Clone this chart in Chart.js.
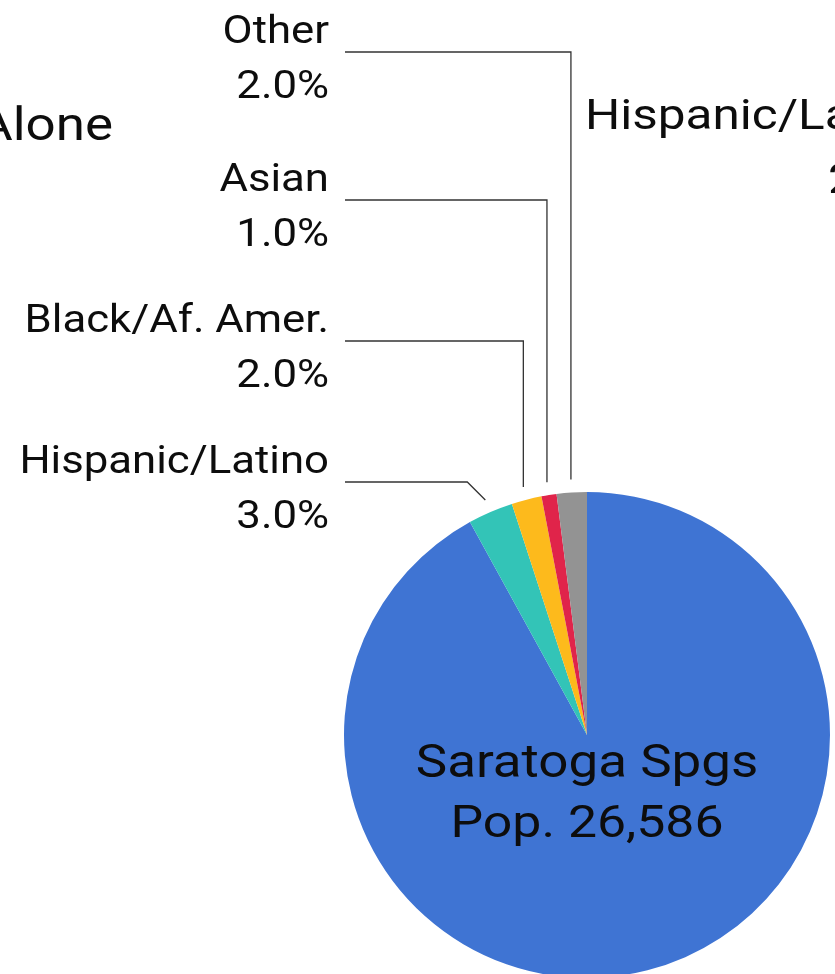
<!DOCTYPE html>
<html>
<head>
<meta charset="utf-8">
<script src="https://cdn.jsdelivr.net/npm/chart.js@4.4.1/dist/chart.umd.min.js"></script>
<style>
  html, body { margin: 0; padding: 0; background: #ffffff; overflow: hidden; }
  #wrap { position: absolute; left: 0; top: 0; width: 835px; height: 974px; overflow: hidden; }
  canvas { display: block; }
</style>
</head>
<body>
<div id="wrap"><canvas id="c" width="835" height="1000"></canvas></div>
<script>
// ---- data ----
const categories = ['White Alone', 'Hispanic/Latino', 'Black/Af. Amer.', 'Asian', 'Other'];
const shares = [92.0, 3.0, 2.0, 1.0, 2.0];
const sliceColors = ['#3F74D3', '#33C4B7', '#FDBA1C', '#E0244A', '#939393'];
const centerLines = ['Saratoga Spgs', 'Pop. 26,586'];

// ---- layout for callout labels (index into categories -> y of leader line) ----
const calloutY = { 4: 52, 3: 200, 2: 341, 1: 482 };
const FONT = 'Roboto, "Liberation Sans", sans-serif';
const SX = 1.15; // horizontal text stretch

function stretchedText(ctx, text, x, y, size, align) {
  ctx.save();
  ctx.font = size + 'px ' + FONT;
  ctx.textBaseline = 'alphabetic';
  ctx.textAlign = align;
  ctx.translate(x, y);
  ctx.scale(SX, 1);
  ctx.fillText(text, 0, 0);
  ctx.restore();
}

const calloutPlugin = {
  id: 'callouts',
  afterDatasetsDraw(chart) {
    const ctx = chart.ctx;
    const meta = chart.getDatasetMeta(0);
    ctx.save();
    ctx.fillStyle = '#0d0d0d';
    // center text
    const a0 = meta.data[0];
    stretchedText(ctx, centerLines[0], a0.x, a0.y + 42, 46, 'center');
    stretchedText(ctx, centerLines[1], a0.x, a0.y + 102, 45, 'center');

    // callouts
    ctx.strokeStyle = '#333333';
    ctx.lineWidth = 1.3;
    Object.keys(calloutY).forEach(k => {
      const i = +k;
      const arc = meta.data[i];
      const mid = (arc.startAngle + arc.endAngle) / 2;
      const r = arc.outerRadius + 13;
      const ex = arc.x + Math.cos(mid) * r;
      const ey = arc.y + Math.sin(mid) * r;
      const ly = calloutY[k];
      ctx.beginPath();
      ctx.moveTo(345, ly);
      const dy = ey - ly;
      if (dy < 40) {
        ctx.lineTo(ex - dy, ly);
      } else {
        ctx.lineTo(ex, ly);
      }
      ctx.lineTo(ex, ey);
      ctx.stroke();
      stretchedText(ctx, categories[i], 329, ly - 9, 38, 'right');
      stretchedText(ctx, shares[i].toFixed(1) + '%', 329, ly + 46, 38, 'right');
    });

    // fragments of neighbouring labels
    stretchedText(ctx, 'Alone', 113, 140, 46, 'right');
    stretchedText(ctx, 'Hispanic/Latino', 585, 129, 43, 'left');
    stretchedText(ctx, '2', 828, 193, 43, 'left');
    ctx.restore();
  }
};

new Chart(document.getElementById('c'), {
  type: 'pie',
  data: {
    labels: categories,
    datasets: [{
      data: shares,
      backgroundColor: sliceColors,
      borderWidth: 0
    }]
  },
  options: {
    responsive: false,
    animation: false,
    layout: { padding: { left: 344, right: 5, top: 492, bottom: 22 } },
    plugins: { legend: { display: false }, tooltip: { enabled: false } }
  },
  plugins: [calloutPlugin]
});
</script>
</body>
</html>
